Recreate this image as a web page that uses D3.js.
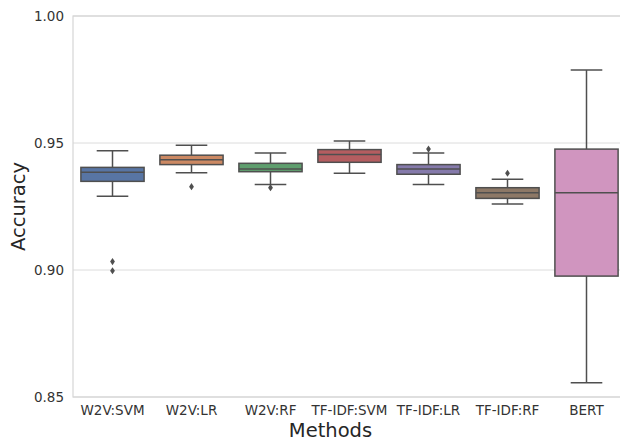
<!DOCTYPE html>
<html><head><meta charset="utf-8">
<script src="https://cdn.jsdelivr.net/npm/d3@7"></script>
<style>body{margin:0;background:#fff}svg{display:block}</style>
</head><body>
<svg id="c" width="620" height="443"></svg>
<script>
const methods = ["W2V:SVM","W2V:LR","W2V:RF","TF-IDF:SVM","TF-IDF:LR","TF-IDF:RF","BERT"];
const whiskerLow  = [0.9290,0.9383,0.9337,0.9381,0.9337,0.9260,0.8556];
const q1          = [0.9349,0.9415,0.9387,0.9424,0.9377,0.9282,0.8976];
const median      = [0.9385,0.9434,0.9398,0.9455,0.9398,0.9304,0.9304];
const q3          = [0.9404,0.9452,0.9420,0.9474,0.9415,0.9324,0.9476];
const whiskerHigh = [0.9469,0.9491,0.9461,0.9508,0.9461,0.9357,0.9787];
const outliers    = [[0.9033,0.8997],[0.9328],[0.9324],[],[0.9476],[0.9381],[]];
const colors = ["#5875a4","#cc8963","#5f9e6e","#b55d60","#857aab","#8d7866","#d095bf"];
const yTicks = [0.85,0.90,0.95,1.00];

const svg = d3.select("#c");
const m = {l:73, r:626, t:16, b:397};
const x = d3.scaleBand().domain(methods).range([m.l, m.r]).paddingInner(0).paddingOuter(0);
const y = d3.scaleLinear().domain([0.85,1.00]).range([m.b, m.t]);
const font = "DejaVu Sans, sans-serif";
const lineCol = "#4f4f4f";

svg.append("g").selectAll("line").data(yTicks).join("line")
  .attr("x1", m.l).attr("x2", m.r).attr("y1", d=>y(d)).attr("y2", d=>y(d))
  .attr("stroke", "#dcdcdc").attr("stroke-width", 1);
svg.append("rect").attr("x", m.l).attr("y", m.t).attr("width", m.r-m.l).attr("height", m.b-m.t)
  .attr("fill","none").attr("stroke","#d6d6d6").attr("stroke-width",1.2);

const ya = svg.append("g").attr("transform", `translate(${m.l},0)`)
  .call(d3.axisLeft(y).tickValues(yTicks).tickFormat(d3.format(".2f")).tickSize(0).tickPadding(9));
ya.select(".domain").remove();
ya.selectAll("text").attr("font-family", font).attr("font-size", 13.5).attr("fill", "#333");

const xa = svg.append("g").attr("transform", `translate(0,${m.b})`)
  .call(d3.axisBottom(x).tickSize(0).tickPadding(8));
xa.select(".domain").remove();
xa.selectAll("text").attr("font-family", font).attr("font-size", 13.5).attr("fill", "#333");

const bw = x.bandwidth()*0.8;
const g = svg.append("g");
methods.forEach((mt,i)=>{
  const cx = x(mt) + x.bandwidth()/2;
  const gg = g.append("g");
  gg.append("line").attr("x1",cx).attr("x2",cx).attr("y1",y(whiskerLow[i])).attr("y2",y(q1[i]))
    .attr("stroke",lineCol).attr("stroke-width",1.5);
  gg.append("line").attr("x1",cx).attr("x2",cx).attr("y1",y(q3[i])).attr("y2",y(whiskerHigh[i]))
    .attr("stroke",lineCol).attr("stroke-width",1.5);
  [whiskerLow[i], whiskerHigh[i]].forEach(v=>{
    gg.append("line").attr("x1",cx-bw/4).attr("x2",cx+bw/4).attr("y1",y(v)).attr("y2",y(v))
      .attr("stroke",lineCol).attr("stroke-width",1.5);
  });
  gg.append("rect").attr("x",cx-bw/2).attr("width",bw).attr("y",y(q3[i])).attr("height",y(q1[i])-y(q3[i]))
    .attr("fill",colors[i]).attr("stroke",lineCol).attr("stroke-width",1.5);
  gg.append("line").attr("x1",cx-bw/2).attr("x2",cx+bw/2).attr("y1",y(median[i])).attr("y2",y(median[i]))
    .attr("stroke",lineCol).attr("stroke-width",1.5);
  outliers[i].forEach(v=>{
    gg.append("path").attr("transform",`translate(${cx},${y(v)})`)
      .attr("d","M0,-3.6L2.4,0L0,3.6L-2.4,0Z").attr("fill",lineCol);
  });
});

svg.append("text").attr("x", 330.5).attr("y", 437).attr("text-anchor","middle")
  .attr("font-family",font).attr("font-size",19.5).attr("fill","#262626").text("Methods");
svg.append("text").attr("transform",`translate(25,${(m.t+m.b)/2}) rotate(-90)`).attr("text-anchor","middle")
  .attr("font-family",font).attr("font-size",19.5).attr("fill","#262626").text("Accuracy");
</script>
</body></html>
